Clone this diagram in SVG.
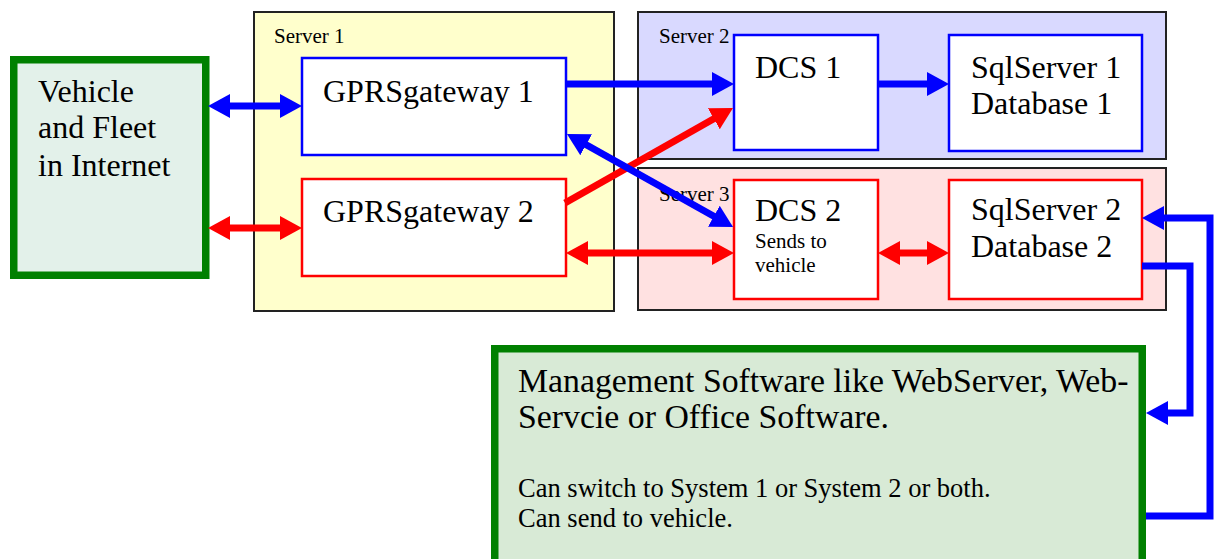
<svg xmlns="http://www.w3.org/2000/svg" width="1214" height="559" viewBox="0 0 1214 559">
<style>
.big{font-size:32px}
.sm{font-size:21px}
.srv{stroke:#222;stroke-width:2}
.nb{fill:#fff;stroke:#0000ff;stroke-width:2.5}
.nr{fill:#fff;stroke:#ff0000;stroke-width:2.5}
.green{stroke:#008000;stroke-width:7.5}
.cb{fill:none;stroke:#0000ff;stroke-width:7}
.cr{fill:none;stroke:#ff0000;stroke-width:7}
</style>
<defs>
<marker id="ab" markerUnits="userSpaceOnUse" markerWidth="24" markerHeight="24" refX="2" refY="12" orient="auto-start-reverse" viewBox="0 0 24 24"><path d="M0,0 L22,12 L0,24 z" fill="#0000ff"/></marker>
<marker id="ar" markerUnits="userSpaceOnUse" markerWidth="24" markerHeight="24" refX="2" refY="12" orient="auto-start-reverse" viewBox="0 0 24 24"><path d="M0,0 L22,12 L0,24 z" fill="#ff0000"/></marker>
</defs>
<rect width="1214" height="559" fill="#fff"/>
<g font-family="Liberation Serif, Tinos, DejaVu Serif, serif" fill="#000">
<g id="server1"><rect class="srv" x="254" y="12" width="360" height="299" fill="#ffffcc"/><text class="sm" x="274" y="43">Server 1</text></g>
<g id="server2"><rect class="srv" x="638" y="12" width="528" height="147" fill="#d9d9ff"/><text class="sm" x="659" y="43">Server 2</text></g>
<g id="server3"><rect class="srv" x="638" y="168" width="528" height="142" fill="#ffe1e1"/><text class="sm" x="659" y="201">Server 3</text></g>
<g id="vehicle"><rect class="green" x="13.75" y="59.75" width="192" height="215.5" fill="#e3f1ea"/><text class="big" x="38" y="102">Vehicle</text><text class="big" x="38" y="138">and Fleet</text><text class="big" x="38" y="176">in Internet</text></g>
<g id="gprs1"><rect class="nb" x="302" y="58" width="264" height="97"/><text class="big" x="323" y="102">GPRSgateway 1</text></g>
<g id="gprs2"><rect class="nr" x="302" y="179" width="264" height="97"/><text class="big" x="323" y="222">GPRSgateway 2</text></g>
<g id="dcs1"><rect class="nb" x="734" y="35" width="144" height="115"/><text class="big" x="755" y="78">DCS 1</text></g>
<g id="sql1"><rect class="nb" x="949" y="35" width="193" height="116"/><text class="big" x="971" y="78">SqlServer 1</text><text class="big" x="971" y="114">Database 1</text></g>
<g id="dcs2"><rect class="nr" x="734" y="180" width="144" height="119"/><text class="big" x="755" y="221">DCS 2</text><text class="sm" x="755" y="248">Sends to</text><text class="sm" x="755" y="272">vehicle</text></g>
<g id="sql2"><rect class="nr" x="949" y="180" width="193" height="119"/><text class="big" x="971" y="220">SqlServer 2</text><text class="big" x="971" y="257">Database 2</text></g>
<g id="mgmt"><rect class="green" x="494.75" y="348.75" width="647.5" height="220" fill="#d8ead6"/><text font-size="33.8" x="518" y="392">Management Software like WebServer, Web-</text><text font-size="33.8" x="518" y="428">Servcie or Office Software.</text><text font-size="26.5" x="518" y="497">Can switch to System 1 or System 2 or both.</text><text font-size="26.5" x="518" y="527">Can send to vehicle.</text></g>
</g>
<g id="connectors">
<path class="cb" d="M228,106 H282" marker-start="url(#ab)" marker-end="url(#ab)"/>
<path class="cr" d="M228,228 H282" marker-start="url(#ar)" marker-end="url(#ar)"/>
<path class="cb" d="M566,84 H714" marker-end="url(#ab)"/>
<path class="cb" d="M878,84 H929" marker-end="url(#ab)"/>
<path class="cr" d="M565,203 L715.6,117.8" marker-end="url(#ar)"/>
<path class="cb" d="M584.4,143.8 L715.6,217.2" marker-start="url(#ab)" marker-end="url(#ab)"/>
<path class="cr" d="M586,253 H714" marker-start="url(#ar)" marker-end="url(#ar)"/>
<path class="cr" d="M898,253 H929" marker-start="url(#ar)" marker-end="url(#ar)"/>
<path class="cb" d="M1142,266 H1190 V413 H1166" marker-end="url(#ab)"/>
<path class="cb" d="M1146,516 H1210 V218 H1162" marker-end="url(#ab)"/>
</g>
</svg>
